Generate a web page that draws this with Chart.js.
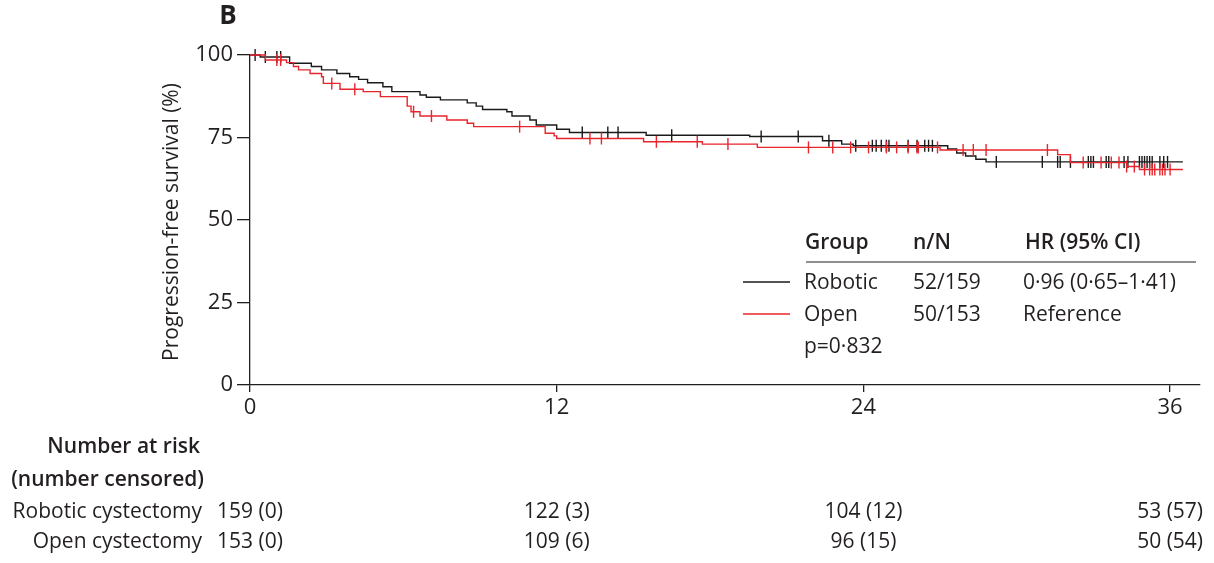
<!DOCTYPE html>
<html>
<head>
<meta charset="utf-8">
<script src="https://cdn.jsdelivr.net/npm/chart.js@4"></script>
<style>
  html, body { margin: 0; padding: 0; background: #fff; }
</style>
</head>
<body>
<canvas id="km" width="1214" height="563"></canvas>
<script>
// Kaplan-Meier steps: time (months) and survival (%) after each step
const roboticTimes    = [0, 0.4, 1.55, 2.4, 2.8, 3.4, 3.9, 4.25, 4.6, 5.2, 5.55, 6.65, 6.9, 7.45, 8.5, 8.85, 9.1, 10.05, 10.25, 10.95, 11.2, 12.0, 12.5, 15.5, 19.55, 22.4, 23.15, 23.6, 27.3, 27.65, 28.0, 28.4, 28.8, 36.5];
const roboticSurvival = [100, 99.4, 97.5, 96.5, 95.5, 94.4, 93.4, 92.6, 91.6, 90.4, 88.9, 87.9, 87.2, 86.4, 85.5, 84.5, 83.5, 82.8, 81.5, 80.3, 78.8, 77.5, 76.5, 75.7, 75.3, 74.0, 73.0, 72.5, 71.5, 70.3, 69.4, 68.4, 67.6, 67.6];
const openTimes    = [0, 0.6, 1.43, 1.7, 1.9, 2.35, 2.8, 2.87, 3.52, 4.43, 5.1, 6.15, 6.3, 6.65, 7.7, 8.5, 8.75, 11.55, 11.9, 12.0, 15.4, 17.7, 19.85, 27.0, 31.6, 32.1, 34.3, 34.8, 36.5];
const openSurvival = [100, 98.5, 97.7, 96.5, 95.5, 94.4, 93.4, 91.4, 89.6, 88.9, 87.4, 84.5, 82.8, 81.5, 80.3, 79.3, 78.3, 76.3, 75.5, 74.7, 73.7, 73.0, 72.0, 71.2, 69.8, 67.4, 66.2, 65.3, 65.3];

// censoring times (months)
const roboticCensored = [0.2, 0.6, 1.05, 1.2, 13.0, 14.0, 14.4, 16.5, 20.0, 21.45, 22.65, 23.7, 24.35, 24.5, 24.7, 24.9, 25.0, 25.75, 26.1, 26.4, 26.55, 26.7, 29.2, 31.0, 31.6, 31.7, 32.1, 32.8, 32.9, 33.0, 33.5, 33.6, 34.2, 34.35, 34.8, 34.9, 35.0, 35.1, 35.2, 35.3, 35.6, 35.75, 35.9];
const openCensored = [1.05, 1.2, 3.2, 4.1, 6.4, 7.1, 10.55, 13.3, 13.75, 15.9, 17.5, 18.7, 21.85, 22.8, 23.5, 24.2, 24.9, 25.3, 25.75, 26.1, 26.15, 26.9, 27.9, 28.3, 28.8, 31.2, 32.6, 33.3, 33.7, 34.0, 34.3, 34.6, 35.0, 35.2, 35.3, 35.4, 35.6, 35.7, 35.8, 36.0];

const xTicks = [0, 12, 24, 36];
const yTicks = [0, 25, 50, 75, 100];

// number at risk (number censored) at each x tick
const roboticAtRisk = [159, 122, 104, 53];
const roboticCensCount = [0, 3, 12, 57];
const openAtRisk = [153, 109, 96, 50];
const openCensCount = [0, 6, 15, 54];

const BLACK = '#1a1a1a';
const RED = '#e8252d';
const TEXT = '#231f20';
const FONT = '"Open Sans", "Noto Sans", sans-serif';

function survivalAt(times, surv, t) {
  let s = surv[0];
  for (let i = 0; i < times.length; i++) {
    if (times[i] <= t) s = surv[i];
  }
  return s;
}

function stepData(times, surv) {
  return times.map((t, i) => ({ x: t, y: surv[i] }));
}

function censorData(list, times, surv) {
  return list.map(t => ({ x: t, y: survivalAt(times, surv, t) }));
}

const extras = {
  id: 'extras',
  afterDraw(chart) {
    const ctx = chart.ctx;
    const xs = chart.scales.x;
    ctx.save();
    ctx.fillStyle = TEXT;
    ctx.textBaseline = 'middle';

    // panel letter
    ctx.font = 'bold 26px ' + FONT;
    ctx.textAlign = 'center';
    ctx.fillText('B', 228, 17);

    // y axis title
    ctx.save();
    ctx.translate(172, 222);
    ctx.rotate(-Math.PI / 2);
    ctx.font = '21px ' + FONT;
    ctx.fillText('Progression-free survival (%)', 0, 0);
    ctx.restore();

    // legend table
    ctx.textAlign = 'left';
    ctx.font = '600 21px ' + FONT;
    ctx.fillText('Group', 805, 243);
    ctx.fillText('n/N', 913, 243);
    ctx.fillText('HR (95% CI)', 1025, 243);
    ctx.strokeStyle = TEXT;
    ctx.lineWidth = 1.2;
    ctx.beginPath();
    ctx.moveTo(806, 262);
    ctx.lineTo(1196, 262);
    ctx.stroke();

    ctx.font = '21px ' + FONT;
    ctx.fillText('Robotic', 804, 283);
    ctx.fillText('52/159', 913, 283);
    ctx.fillText('0·96 (0·65–1·41)', 1023, 283);
    ctx.fillText('Open', 804, 315);
    ctx.fillText('50/153', 913, 315);
    ctx.fillText('Reference', 1023, 315);
    ctx.fillText('p=0·832', 804, 347);

    ctx.lineWidth = 1.3;
    ctx.strokeStyle = BLACK;
    ctx.beginPath();
    ctx.moveTo(743, 282);
    ctx.lineTo(790, 282);
    ctx.stroke();
    ctx.strokeStyle = RED;
    ctx.beginPath();
    ctx.moveTo(743, 314);
    ctx.lineTo(790, 314);
    ctx.stroke();

    // number at risk table
    ctx.textAlign = 'right';
    ctx.font = '600 21px ' + FONT;
    ctx.fillText('Number at risk', 200, 447);
    ctx.fillText('(number censored)', 204, 480);
    ctx.font = '21px ' + FONT;
    ctx.fillText('Robotic cystectomy', 202, 512);
    ctx.fillText('Open cystectomy', 202, 542);

    ctx.textAlign = 'center';
    xTicks.forEach((t, i) => {
      const px = xs.getPixelForValue(t);
      ctx.fillText(roboticAtRisk[i] + ' (' + roboticCensCount[i] + ')', px, 512);
      ctx.fillText(openAtRisk[i] + ' (' + openCensCount[i] + ')', px, 542);
    });
    ctx.restore();
  }
};

new Chart(document.getElementById('km'), {
  type: 'scatter',
  data: {
    datasets: [
      {
        label: 'Open',
        data: stepData(openTimes, openSurvival),
        showLine: true,
        stepped: 'before',
        borderColor: RED,
        borderWidth: 1.4,
        pointRadius: 0,
        clip: false,
        order: 2
      },
      {
        label: 'Open censored',
        data: censorData(openCensored, openTimes, openSurvival),
        showLine: false,
        pointStyle: 'line',
        rotation: 90,
        pointRadius: 6,
        borderColor: RED,
        backgroundColor: RED,
        borderWidth: 1.4,
        clip: false,
        order: 1
      },
      {
        label: 'Robotic',
        data: stepData(roboticTimes, roboticSurvival),
        showLine: true,
        stepped: 'before',
        borderColor: BLACK,
        borderWidth: 1.4,
        pointRadius: 0,
        clip: false,
        order: 4
      },
      {
        label: 'Robotic censored',
        data: censorData(roboticCensored, roboticTimes, roboticSurvival),
        showLine: false,
        pointStyle: 'line',
        rotation: 90,
        pointRadius: 6,
        borderColor: BLACK,
        backgroundColor: BLACK,
        borderWidth: 1.4,
        clip: false,
        order: 3
      }
    ]
  },
  options: {
    responsive: false,
    animation: false,
    events: [],
    layout: { padding: { top: 55, right: 14, left: 0, bottom: 0 } },
    plugins: {
      legend: { display: false },
      tooltip: { enabled: false }
    },
    scales: {
      x: {
        type: 'linear',
        min: 0,
        max: 37.17,
        afterBuildTicks: scale => { scale.ticks = xTicks.map(v => ({ value: v })); },
        afterFit: scale => { scale.height = 178; },
        border: { display: true, color: TEXT, width: 1.3 },
        grid: { display: true, drawOnChartArea: false, tickLength: 7, color: TEXT, lineWidth: 1.3 },
        ticks: { font: { family: FONT, size: 22 }, color: TEXT, padding: 3, maxRotation: 0 }
      },
      y: {
        type: 'linear',
        min: 0,
        max: 100,
        afterBuildTicks: scale => { scale.ticks = yTicks.map(v => ({ value: v })); },
        afterFit: scale => { scale.width = 250; },
        border: { display: true, color: TEXT, width: 1.3 },
        grid: { display: true, drawOnChartArea: false, tickLength: 13, color: TEXT, lineWidth: 1.3 },
        ticks: { font: { family: FONT, size: 22 }, color: TEXT, padding: 4 }
      }
    }
  },
  plugins: [extras]
});
</script>
</body>
</html>
